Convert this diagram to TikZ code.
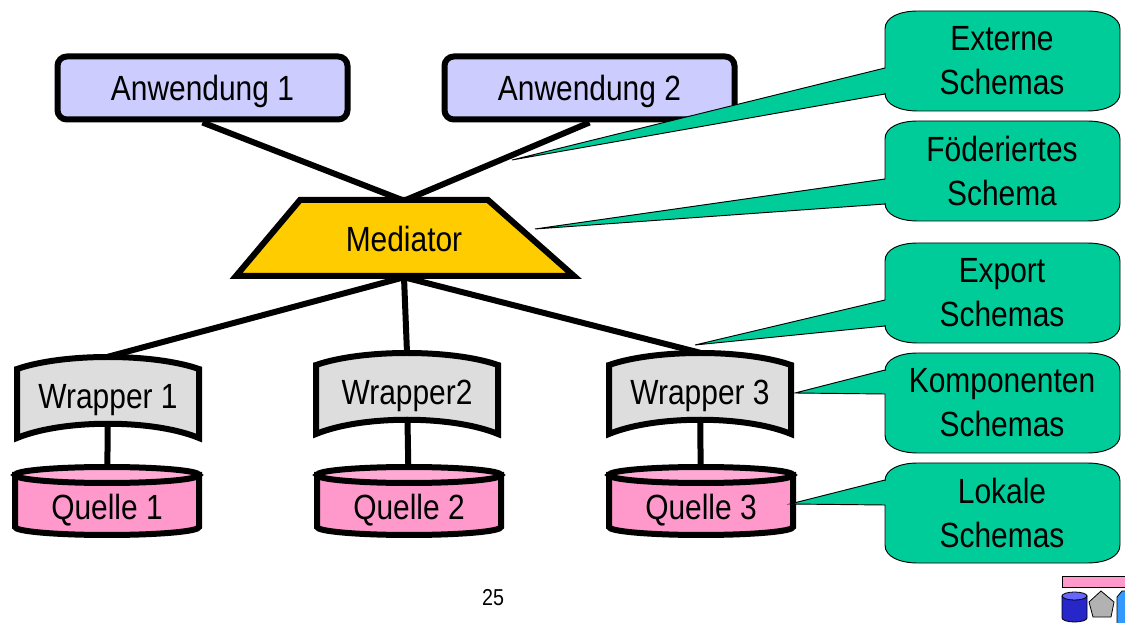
\documentclass[tikz,border=0pt]{standalone}
\usepackage{fontspec}
\setmainfont[FakeStretch=0.855]{Liberation Sans}
\usetikzlibrary{backgrounds}
\definecolor{anwcol}{HTML}{CCCCFF}
\definecolor{medcol}{HTML}{FFCC00}
\definecolor{wrapcol}{HTML}{DDDDDD}
\definecolor{quellecol}{HTML}{FF99CC}
\definecolor{quelletop}{HTML}{FFAAD4}
\definecolor{notecol}{HTML}{00CC99}
\tikzset{
    bigtext/.style={font=\fontsize{26.25}{33}\selectfont, text=black},
    onetext/.style={bigtext, text height=18.8pt, text depth=0pt},
    anwbox/.style={onetext, draw, fill=anwcol, line width=4.5pt, rounded corners=7pt,
        minimum width=217.5pt, minimum height=47.25pt},
    medbox/.style={onetext, minimum width=250pt, minimum height=57pt, inner sep=0pt},
    wrapbox/.style={onetext, minimum width=136pt, minimum height=58.5pt, inner sep=0pt},
    quellebox/.style={onetext, minimum width=139pt, minimum height=54pt, inner sep=0pt},
    notebox/.style={bigtext, align=center, inner sep=0pt},
    linkline/.style={line width=4.5pt},
    noteline/.style={draw=black, fill=notecol, line width=0.7pt}
}
% wrapper shape round the label
\newcommand{\wrapper}[4]{
    \draw[fill=wrapcol, line width=4.5pt] (#2-91,#3-27) .. controls (#2-45,#3-43) and (#2+45,#3-43) .. (#2+91,#3-27)
        -- (#2+91,#3+42) .. controls (#2+45,#3+23) and (#2-45,#3+23) .. (#2-91,#3+42) -- cycle;
    \node[wrapbox] (#1) at (#2,#3) {#4};
}
% cylinder round the label
\newcommand{\quelle}[4]{
    \draw[fill=quellecol, line width=4.5pt] (#2-92,#3-32) -- (#2-92,#3+20) arc[start angle=180, end angle=0, x radius=92, y radius=8]
        -- (#2+92,#3-32) -- cycle;
    \draw[fill=quelletop, line width=4.5pt] (#2,#3-32) ellipse[x radius=92, y radius=8];
    \node[quellebox] (#1) at (#2,#3) {#4};
}
% callout box with its tail
\newcommand{\callout}[6]{
    \draw[noteline] (885,#3) -- (#5) -- (885,#4) -- (885,#2+82)
        .. controls (885,#2+94) and (900,#2+100) .. (918,#2+100) -- (1087,#2+100)
        .. controls (1105,#2+100) and (1120,#2+94) .. (1120,#2+82) -- (1120,#2+18)
        .. controls (1120,#2+6) and (1105,#2) .. (1087,#2) -- (918,#2)
        .. controls (900,#2) and (885,#2+6) .. (885,#2+18) -- cycle;
    \node[notebox] (#1) at (1002,#2+50) {#6};
}
\begin{document}
\begin{tikzpicture}[x=0.75pt, y=-0.75pt]
    \useasboundingbox (0,0) rectangle (1125,623);
    \node[anwbox] (anw1) at (202.5,88) {Anwendung 1};
    \node[anwbox] (anw2) at (589.5,88) {Anwendung 2};
    \draw[fill=medcol, line width=4.5pt] (300,200) -- (488,200) -- (574,276) -- (236,276) -- cycle;
    \node[medbox] (med) at (404,239) {Mediator};
    \wrapper{wrap1}{108}{396}{Wrapper 1}
    \wrapper{wrap2}{407}{392}{Wrapper2}
    \wrapper{wrap3}{700}{392}{Wrapper 3}
    \quelle{quelle1}{107}{507}{Quelle 1}
    \quelle{quelle2}{409}{507}{Quelle 2}
    \quelle{quelle3}{701}{507}{Quelle 3}
    \begin{scope}[on background layer]
        \draw[linkline] (anw1.south) -- (med.north);
        \draw[linkline] (anw2.south) -- (med.north);
        \draw[linkline] (med.south) -- (wrap1.north);
        \draw[linkline] (med.south) -- (wrap2.north);
        \draw[linkline] (med.south) -- (wrap3.north);
        \draw[linkline] (wrap1.center) -- (quelle1.center);
        \draw[linkline] (wrap2.center) -- (quelle2.center);
        \draw[linkline] (wrap3.center) -- (quelle3.center);
    \end{scope}
    \coordinate (tip1) at (512,160);
    \coordinate (tip2) at (535,229);
    \coordinate (tip3) at (695,345);
    \coordinate (tip4) at (795,393);
    \coordinate (tip5) at (790,504);
    \callout{note1}{11}{68}{94}{tip1}{Externe\\Schemas}
    \callout{note2}{121}{179}{204}{tip2}{Föderiertes\\Schema}
    \callout{note3}{243}{300}{326}{tip3}{Export\\Schemas}
    \callout{note4}{353}{370}{394}{tip4}{Komponenten\\Schemas}
    \callout{note5}{463}{480}{505}{tip5}{Lokale\\Schemas}
    \node[font=\fontsize{17.25}{20}\selectfont] (page) at (493,598) {25};
    % logo
    \draw[fill=quellecol, line width=0.6pt] (1062,576) rectangle (1126,587);
    \draw[fill=blue!75!black!85, line width=0.6pt] (1062,596) -- (1062,618) arc[start angle=180, end angle=0, x radius=12.5, y radius=4] -- (1087,596) -- cycle;
    \draw[fill=blue!60!white, line width=0.6pt] (1074.5,596) ellipse[x radius=12.5, y radius=4];
    \draw[fill=black!30, line width=0.6pt] (1101,591) -- (1114,602) -- (1111,617) -- (1093,617) -- (1089,602) -- cycle;
    \draw[fill=blue!50!cyan!80, line width=0.6pt] (1117,597) -- (1122,591) -- (1126,591) -- (1126,624) -- (1117,624) -- cycle;
\end{tikzpicture}
\end{document}
